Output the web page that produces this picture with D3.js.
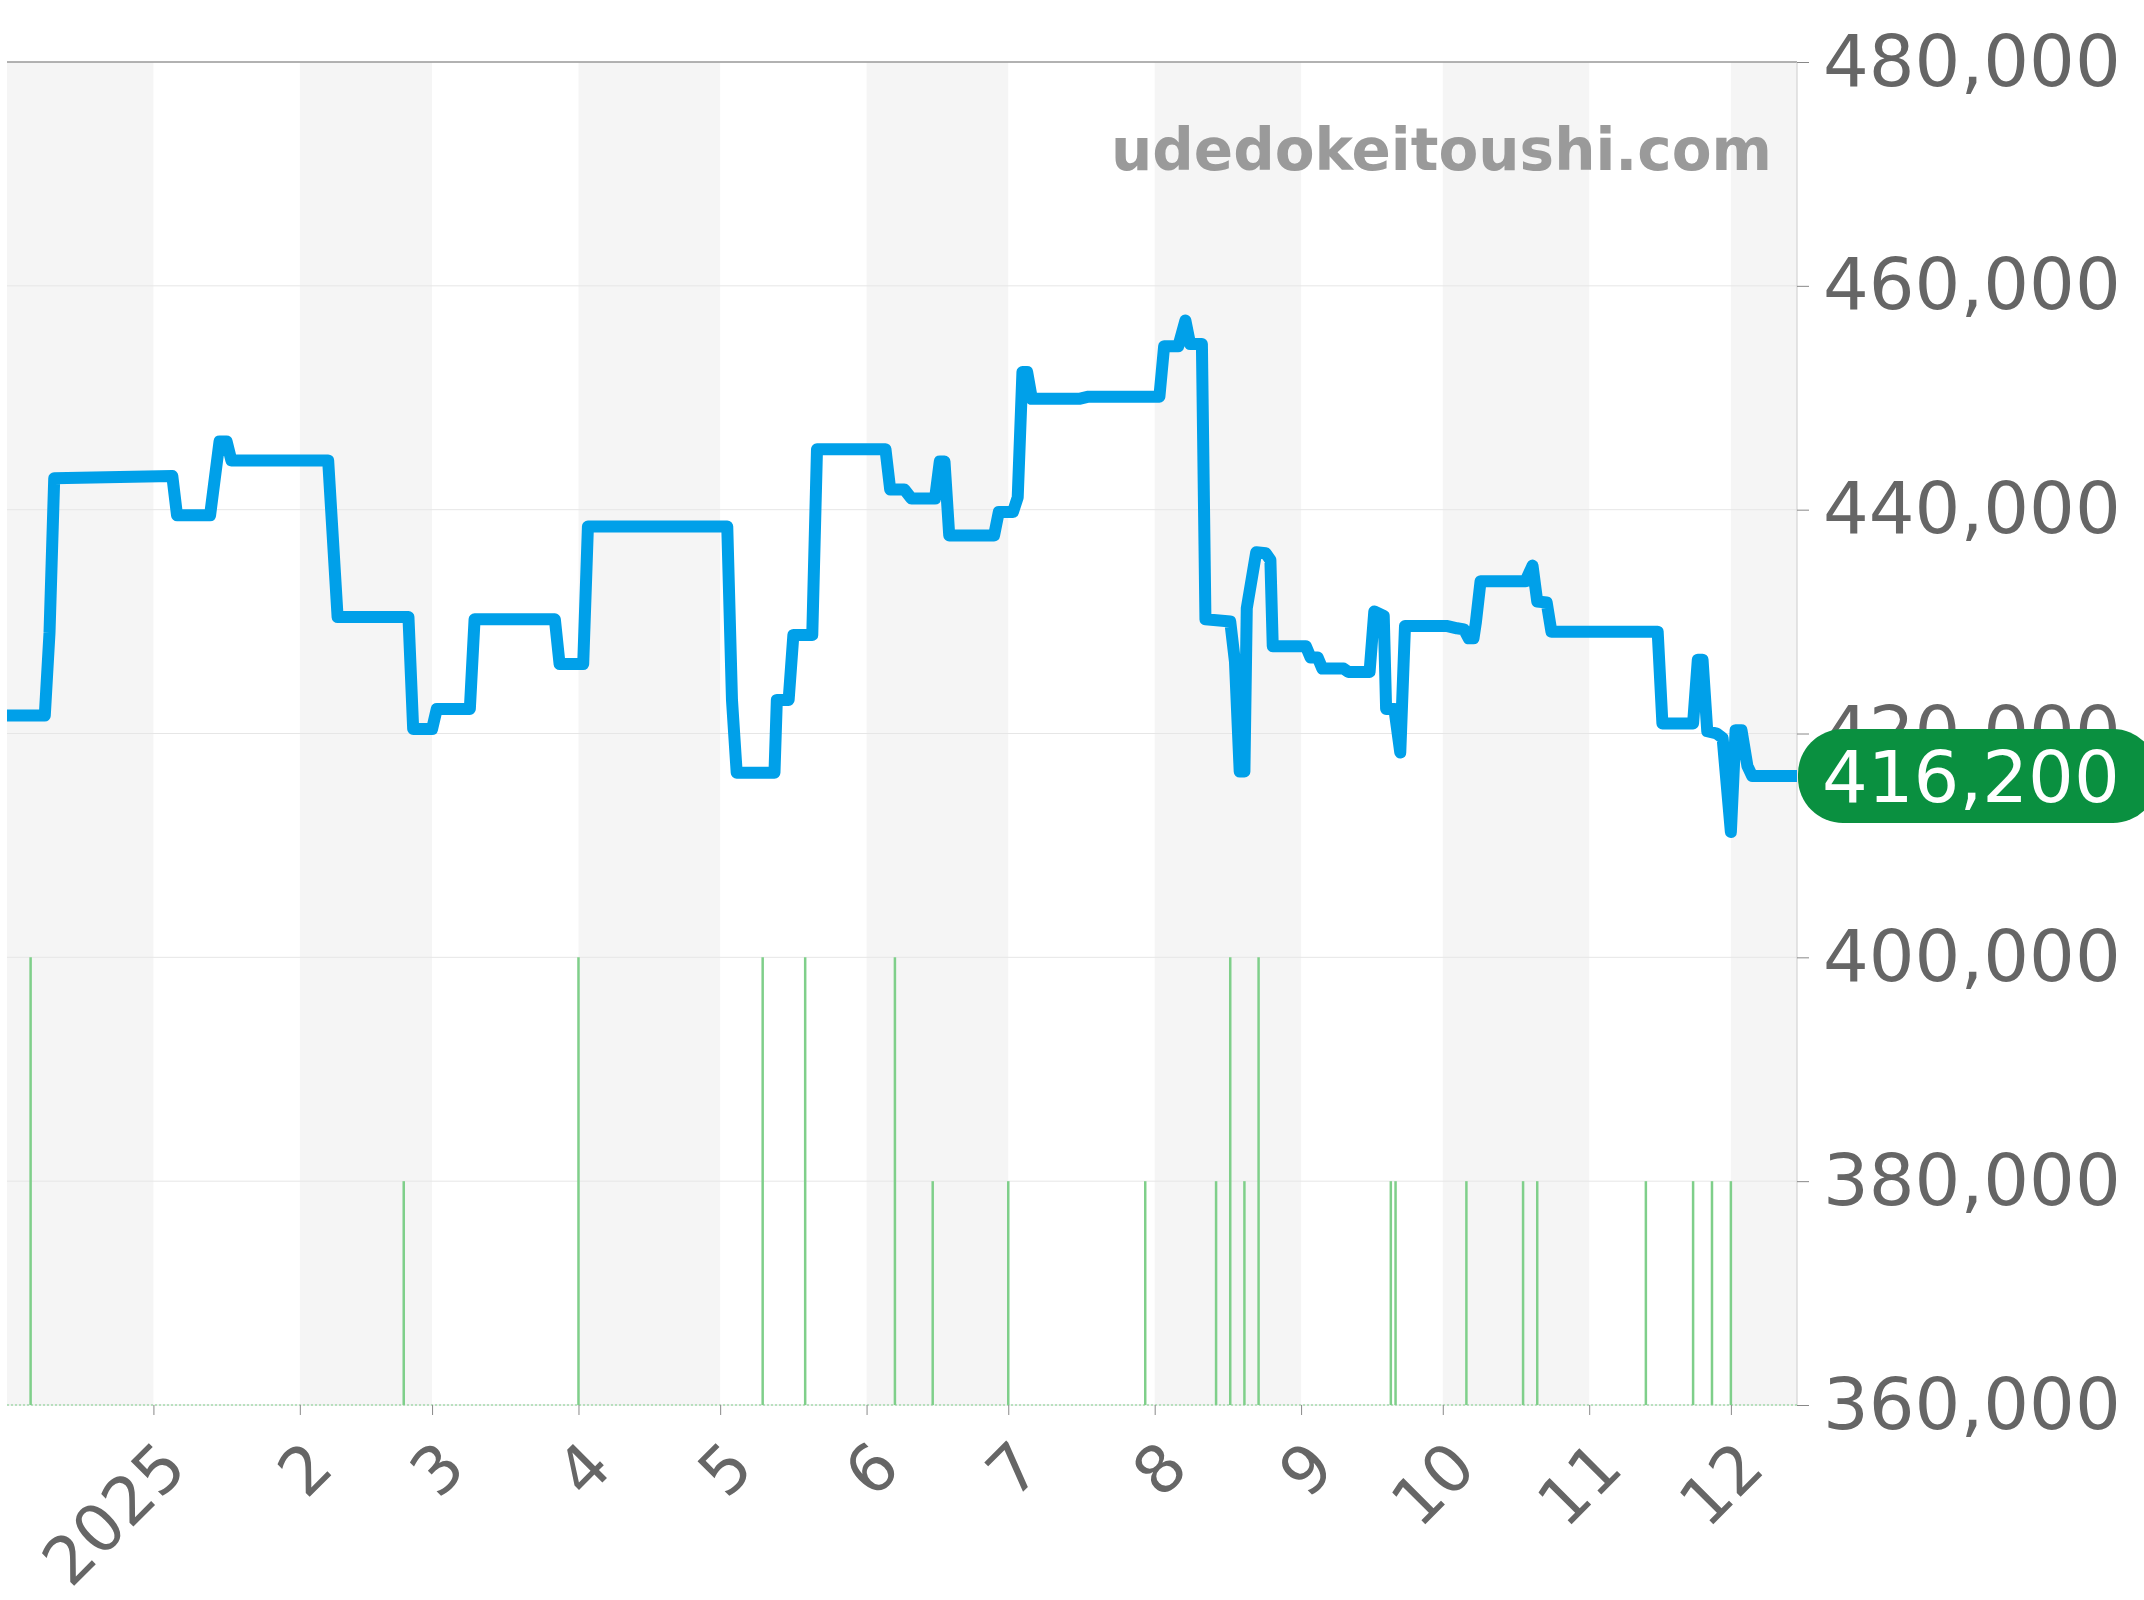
<!DOCTYPE html><html><head><meta charset="utf-8"><script src="https://cdn.jsdelivr.net/npm/d3@7"></script>
<style>body{margin:0;background:#fff}</style></head><body><svg id="c" width="2144" height="1600"></svg>
<script>
const priceDates=["2024-12-01 00","2024-12-09 00","2024-12-10 00","2024-12-11 00","2025-01-05 00","2025-01-06 00","2025-01-13 00","2025-01-15 00","2025-01-16 12","2025-01-17 12",
"2025-02-07 00","2025-02-09 00","2025-02-24 00","2025-02-25 00","2025-03-01 00","2025-03-02 00","2025-03-09 00","2025-03-10 00","2025-03-27 00","2025-03-28 00",
"2025-04-02 00","2025-04-03 00","2025-05-02 12","2025-05-03 12","2025-05-04 12","2025-05-12 12","2025-05-13 00","2025-05-15 12","2025-05-16 12","2025-05-20 12",
"2025-05-21 12","2025-06-05 00","2025-06-06 00","2025-06-09 00","2025-06-10 12","2025-06-15 12","2025-06-16 12","2025-06-17 12","2025-06-18 12","2025-06-28 00",
"2025-06-29 00","2025-07-02 00","2025-07-03 00","2025-07-04 00","2025-07-05 00","2025-07-06 00","2025-07-16 00","2025-07-18 00","2025-08-02 00","2025-08-03 00",
"2025-08-06 00","2025-08-07 12","2025-08-08 12","2025-08-11 00","2025-08-11 18","2025-08-17 00","2025-08-18 00","2025-08-19 00","2025-08-20 00","2025-08-20 12",
"2025-08-22 12","2025-08-24 12","2025-08-25 12","2025-08-26 00","2025-09-02 00","2025-09-03 00","2025-09-04 12","2025-09-05 12","2025-09-10 00","2025-09-11 00",
"2025-09-15 12","2025-09-16 12","2025-09-18 12","2025-09-19 00","2025-09-20 18","2025-09-22 00","2025-09-23 00","2025-10-02 00","2025-10-04 00","2025-10-05 12",
"2025-10-06 12","2025-10-07 12","2025-10-08 00","2025-10-09 00","2025-10-18 12","2025-10-20 00","2025-10-21 00","2025-10-23 00","2025-10-24 00","2025-11-15 12",
"2025-11-16 12","2025-11-23 00","2025-11-24 00","2025-11-25 00","2025-11-26 00","2025-11-28 00","2025-11-29 06","2025-12-01 00","2025-12-02 00","2025-12-03 06",
"2025-12-04 12","2025-12-05 12","2025-12-15 00"];
const priceValues=[421600,421600,429000,442800,443000,439500,439500,446100,446100,444400,
444400,430400,430400,420400,420400,422200,422200,430200,430200,426200,
426200,438500,438500,423000,416500,416500,423000,423000,428800,428800,
445400,445400,441800,441800,441000,441000,444300,444300,437700,437700,
439800,439800,441100,452300,452300,449900,449900,450100,450100,454600,
454600,456900,454800,454800,430200,430000,426400,416600,416600,431200,
436200,436100,435500,427800,427800,426800,426800,425800,425800,425500,
425500,430900,430500,422200,422200,418300,429600,429600,429400,429300,
428500,428500,429900,433600,433600,435000,431800,431700,429100,429100,
420900,420900,426600,426600,420200,420000,419600,411200,420300,420300,
417100,416200,416200];
const volDates=["2024-12-06","2025-02-23","2025-04-01","2025-05-10","2025-05-19","2025-06-07","2025-06-15","2025-07-01","2025-07-30","2025-08-14","2025-08-17","2025-08-20","2025-08-23","2025-09-20","2025-09-21","2025-10-06","2025-10-18","2025-10-21","2025-11-13","2025-11-23","2025-11-27","2025-12-01"];
const volCounts=[2,1,2,2,2,2,1,1,1,1,2,1,2,1,1,1,1,1,1,1,1,1];
const yTicks=[360000,380000,400000,420000,440000,460000,480000];
const monthLabels=["2025","2","3","4","5","6","7","8","9","10","11","12"];
const lastLabel="416,200", siteLabel="udedokeitoushi.com";

const svg=d3.select("#c");
const L=7,R=1797,T=62,B=1405;
const pt=d3.timeParse("%Y-%m-%d %H"), pd=d3.timeParse("%Y-%m-%d");
const x=d3.scaleTime().domain([pd("2024-12-01"),pd("2025-12-15")]).range([L,R]);
const y=d3.scaleLinear().domain([360000,480000]).range([B,T]);
const vy=d3.scaleLinear().domain([0,2]).range([B,y(400000)]);
const months=d3.timeMonth.range(pd("2024-12-01"),pd("2026-01-01"));
months.forEach((m,i)=>{ if(i%2==0){const x0=x(m),x1=Math.min(R,x(d3.timeMonth.offset(m,1)));
 svg.append("rect").attr("x",x0).attr("y",T).attr("width",x1-x0).attr("height",B-T).attr("fill","#f5f5f5");}});
yTicks.forEach(v=>{svg.append("line").attr("x1",L).attr("x2",R).attr("y1",y(v)).attr("y2",y(v)).attr("stroke",v==480000?"#999":"#e6e6e6").attr("stroke-width",v==480000?1.5:1);});
svg.append("line").attr("x1",R).attr("x2",R).attr("y1",T).attr("y2",B).attr("stroke","#ccc");
volDates.forEach((d,i)=>svg.append("line").attr("x1",x(pd(d))).attr("x2",x(pd(d))).attr("y1",B).attr("y2",vy(volCounts[i])).attr("stroke","#7fcf8a").attr("stroke-width",2.5));
svg.append("line").attr("x1",L).attr("x2",R).attr("y1",B).attr("y2",B).attr("stroke","#7fcf8a").attr("stroke-dasharray","2,2");
const ax=svg.append("g").attr("transform",`translate(${R},0)`).call(d3.axisRight(y).tickValues(yTicks).tickSize(12).tickPadding(14).tickFormat(d3.format(",")));
ax.select(".domain").remove();ax.selectAll("line").attr("stroke","#888");
ax.selectAll("text").attr("font-family","DejaVu Sans").attr("font-size",72).attr("fill","#666");
const bx=svg.append("g").attr("transform",`translate(0,${B})`).call(d3.axisBottom(x).tickValues(months.slice(1)).tickSize(10).tickFormat((d,i)=>monthLabels[i]));
bx.select(".domain").remove();bx.selectAll("line").attr("stroke","#888");
bx.selectAll("text").attr("font-family","DejaVu Sans").attr("font-size",66).attr("fill","#666").attr("text-anchor","end").attr("dy","0.35em").attr("transform","translate(10,40) rotate(-45)");
svg.append("text").attr("x",1772).attr("y",170).attr("text-anchor","end").attr("font-family","DejaVu Sans").attr("font-weight","bold").attr("font-size",58).attr("fill","#9a9a9a").text(siteLabel);
const line=d3.line().x((d,i)=>x(pt(priceDates[i]))).y(d=>y(d));
svg.append("path").attr("d",line(priceValues)).attr("fill","none").attr("stroke","#00a0e9").attr("stroke-width",12).attr("stroke-linejoin","round");
const ly=y(priceValues[priceValues.length-1]);
svg.append("rect").attr("x",1798).attr("y",ly-47).attr("width",360).attr("height",94).attr("rx",45).attr("fill","#0a9040");
svg.append("text").attr("x",1822).attr("y",ly).attr("dy","0.36em").attr("font-family","DejaVu Sans").attr("font-size",72).attr("fill","#fff").text(lastLabel);
</script></body></html>
